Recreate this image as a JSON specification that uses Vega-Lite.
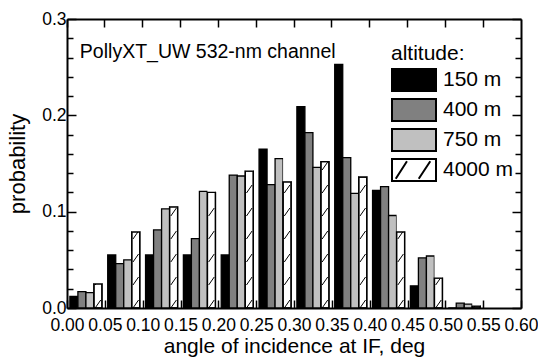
{
  "$schema": "https://vega.github.io/schema/vega-lite/v6.json",
  "width": 454,
  "height": 289,
  "autosize": "none",
  "padding": {"left": 67, "top": 19, "right": 17, "bottom": 52},
  "background": "white",
  "config": {
    "font": "Liberation Sans",
    "view": {"stroke": null},
    "axis": {
      "domainColor": "black", "domainWidth": 2, "tickColor": "black", "tickWidth": 1.5,
      "labelColor": "black", "titleColor": "black",
      "labelFont": "Liberation Sans", "titleFont": "Liberation Sans",
      "titleFontWeight": "normal", "grid": false, "zindex": 1
    }
  },
  "datasets": {
    "hist": [
      {"angle": 0.025, "alt": "150 m", "p": 0.012},
      {"angle": 0.025, "alt": "400 m", "p": 0.017},
      {"angle": 0.025, "alt": "750 m", "p": 0.016},
      {"angle": 0.025, "alt": "4000 m", "p": 0.025},
      {"angle": 0.075, "alt": "150 m", "p": 0.055},
      {"angle": 0.075, "alt": "400 m", "p": 0.046},
      {"angle": 0.075, "alt": "750 m", "p": 0.050},
      {"angle": 0.075, "alt": "4000 m", "p": 0.079},
      {"angle": 0.125, "alt": "150 m", "p": 0.055},
      {"angle": 0.125, "alt": "400 m", "p": 0.081},
      {"angle": 0.125, "alt": "750 m", "p": 0.103},
      {"angle": 0.125, "alt": "4000 m", "p": 0.105},
      {"angle": 0.175, "alt": "150 m", "p": 0.055},
      {"angle": 0.175, "alt": "400 m", "p": 0.072},
      {"angle": 0.175, "alt": "750 m", "p": 0.121},
      {"angle": 0.175, "alt": "4000 m", "p": 0.120},
      {"angle": 0.225, "alt": "150 m", "p": 0.055},
      {"angle": 0.225, "alt": "400 m", "p": 0.138},
      {"angle": 0.225, "alt": "750 m", "p": 0.137},
      {"angle": 0.225, "alt": "4000 m", "p": 0.142},
      {"angle": 0.275, "alt": "150 m", "p": 0.165},
      {"angle": 0.275, "alt": "400 m", "p": 0.128},
      {"angle": 0.275, "alt": "750 m", "p": 0.155},
      {"angle": 0.275, "alt": "4000 m", "p": 0.131},
      {"angle": 0.325, "alt": "150 m", "p": 0.209},
      {"angle": 0.325, "alt": "400 m", "p": 0.182},
      {"angle": 0.325, "alt": "750 m", "p": 0.146},
      {"angle": 0.325, "alt": "4000 m", "p": 0.152},
      {"angle": 0.375, "alt": "150 m", "p": 0.253},
      {"angle": 0.375, "alt": "400 m", "p": 0.156},
      {"angle": 0.375, "alt": "750 m", "p": 0.119},
      {"angle": 0.375, "alt": "4000 m", "p": 0.136},
      {"angle": 0.425, "alt": "150 m", "p": 0.122},
      {"angle": 0.425, "alt": "400 m", "p": 0.126},
      {"angle": 0.425, "alt": "750 m", "p": 0.096},
      {"angle": 0.425, "alt": "4000 m", "p": 0.079},
      {"angle": 0.475, "alt": "150 m", "p": 0.023},
      {"angle": 0.475, "alt": "400 m", "p": 0.052},
      {"angle": 0.475, "alt": "750 m", "p": 0.054},
      {"angle": 0.475, "alt": "4000 m", "p": 0.031},
      {"angle": 0.525, "alt": "150 m", "p": 0.0},
      {"angle": 0.525, "alt": "400 m", "p": 0.005},
      {"angle": 0.525, "alt": "750 m", "p": 0.004},
      {"angle": 0.525, "alt": "4000 m", "p": 0.002}
    ]
  },
  "layer": [
    {
      "data": {"name": "hist"},
      "encoding": {
        "x": {
          "field": "angle", "type": "ordinal",
          "scale": {
            "domain": [0.025, 0.075, 0.125, 0.175, 0.225, 0.275, 0.325, 0.375, 0.425, 0.475, 0.525, 0.575],
            "paddingInner": 0, "paddingOuter": 0
          },
          "axis": {"orient": "top", "bandPosition": 0, "labels": false, "title": null, "tickSize": -8, "domain": true, "ticks": true}
        },
        "xOffset": {
          "field": "alt", "type": "nominal",
          "scale": {"domain": ["150 m", "400 m", "750 m", "4000 m"], "paddingInner": 0, "paddingOuter": 0.36}
        },
        "y": {
          "field": "p", "type": "quantitative",
          "scale": {"domain": [0, 0.3], "nice": false, "zero": true},
          "axis": {
            "orient": "right", "labels": false, "title": null, "domain": true, "ticks": true,
            "values": [0, 0.02, 0.04, 0.06, 0.08, 0.1, 0.12, 0.14, 0.16, 0.18, 0.2, 0.22, 0.24, 0.26, 0.28, 0.3],
            "tickSize": {"condition": {"test": "abs(datum.value*10 - round(datum.value*10)) < 0.001", "value": -9}, "value": -6}
          }
        }
      },
      "layer": [
        {
          "mark": {"type": "bar", "stroke": "black", "strokeWidth": 1.3},
          "encoding": {
            "fill": {
              "field": "alt", "type": "nominal",
              "scale": {"domain": ["150 m", "400 m", "750 m", "4000 m"], "range": ["#000000", "#808080", "#c0c0c0", "#ffffff"]},
              "legend": {
                "orient": "none", "legendX": 324, "legendY": 24,
                "title": "altitude:", "titleFontSize": 21, "titleFontWeight": "normal", "titleColor": "black",
                "titleFont": "Liberation Sans", "titlePadding": 4,
                "labelFontSize": 21, "labelColor": "black", "labelFont": "Liberation Sans",
                "symbolType": "M-1,-1H3V1H-1Z", "symbolSize": 484,
                "symbolStrokeColor": "black", "symbolStrokeWidth": 2,
                "labelOffset": 28, "rowPadding": 0,
                "encode": {
                  "symbols": {
                    "update": {
                      "shape": {"signal": "datum.value === '4000 m' ? 'M-1,-1H3V1H-1ZM-0.66,0.8L0.36,-0.8M1.43,0.8L2.48,-0.8' : 'M-1,-1H3V1H-1Z'"},
                      "stroke": {"value": "black"},
                      "strokeWidth": {"value": 2}
                    }
                  }
                }
              }
            }
          }
        },
        {
          "transform": [{"filter": "datum.alt === '4000 m'"}],
          "mark": {
            "type": "point",
            "shape": "M-0.7,0L0.7,-2M-0.7,-5.75L0.7,-7.75M-0.7,-11.5L0.7,-13.5M-0.7,-17.25L0.7,-19.25M-0.7,-23L0.7,-25M-0.7,-28.75L0.7,-30.75M-0.7,-34.5L0.7,-36.5",
            "size": 64, "filled": false, "stroke": "black", "strokeWidth": 1, "opacity": 1
          },
          "encoding": {"y": {"datum": 0}}
        },
        {
          "transform": [{"filter": "datum.alt === '4000 m'"}],
          "mark": {"type": "bar", "fill": "white", "strokeWidth": 0},
          "encoding": {"y2": {"datum": 0.297}}
        },
        {
          "transform": [{"filter": "datum.alt === '4000 m'"}],
          "mark": {"type": "bar", "fill": "white", "fillOpacity": 0, "stroke": "black", "strokeWidth": 1.3}
        }
      ]
    },
    {
      "data": {"values": [{"label": "PollyXT_UW 532-nm channel"}]},
      "mark": {"type": "text", "align": "left", "baseline": "middle", "fontSize": 19.5, "font": "Liberation Sans", "color": "black"},
      "encoding": {
        "text": {"field": "label"},
        "x": {
          "datum": 0.017, "type": "quantitative",
          "scale": {"domain": [0, 0.6], "nice": false, "zero": false},
          "axis": {
            "orient": "bottom",
            "values": [0, 0.05, 0.1, 0.15, 0.2, 0.25, 0.3, 0.35, 0.4, 0.45, 0.5, 0.55, 0.6],
            "format": ".2f", "labelFontSize": 17.5, "labelOverlap": false, "labelFlush": false, "labelBound": false,
            "tickSize": -8, "labelPadding": 16,
            "title": "angle of incidence at IF, deg", "titleFontSize": 21, "titlePadding": 2
          }
        },
        "y": {
          "datum": 0.266, "type": "quantitative",
          "scale": {"domain": [0, 0.3], "nice": false, "zero": false},
          "axis": {
            "orient": "left",
            "values": [0, 0.02, 0.04, 0.06, 0.08, 0.1, 0.12, 0.14, 0.16, 0.18, 0.2, 0.22, 0.24, 0.26, 0.28, 0.3],
            "labelExpr": "abs(datum.value*10 - round(datum.value*10)) < 0.001 ? format(datum.value, '.1f') : ''",
            "labelFontSize": 17.5, "labelOverlap": false, "labelFlush": false, "labelBound": false, "labelPadding": 10,
            "tickSize": {"condition": {"test": "abs(datum.value*10 - round(datum.value*10)) < 0.001", "value": -9}, "value": -6},
            "title": "probability", "titleFontSize": 22, "titlePadding": 12
          }
        }
      }
    }
  ],
  "resolve": {"scale": {"x": "independent", "y": "independent"}, "axis": {"x": "independent", "y": "independent"}}
}
